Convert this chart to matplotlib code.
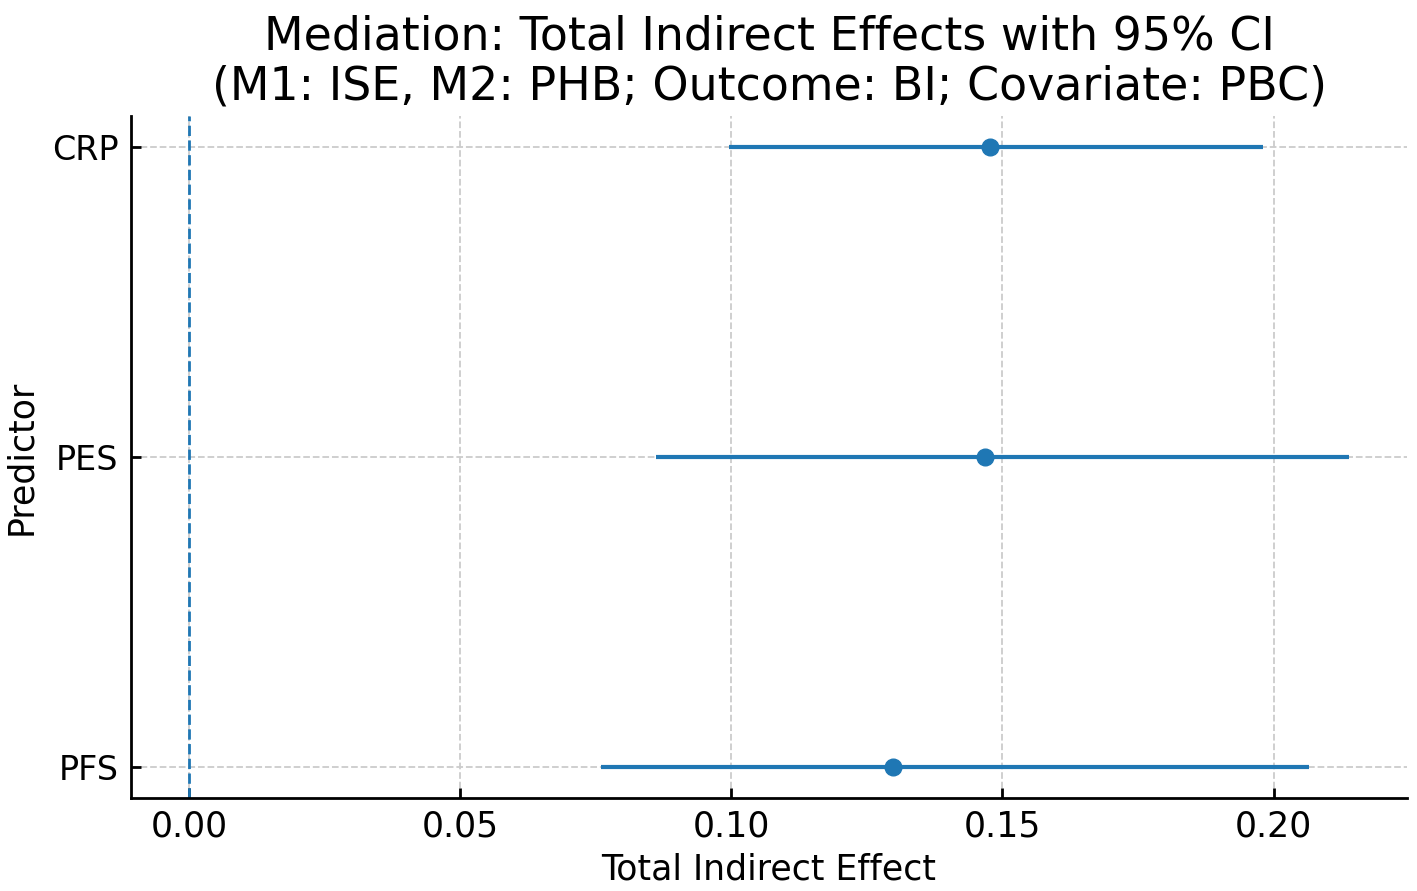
import matplotlib
matplotlib.use("Agg")
import matplotlib.pyplot as plt

predictors = ["CRP", "PES", "PFS"]
effect = [0.1477, 0.1468, 0.1298]
ci_low = [0.0996, 0.0861, 0.0760]
ci_high = [0.1980, 0.2139, 0.2065]

blue = "#1f77b4"

fig = plt.figure(figsize=(14.17, 8.91), dpi=100)
ax = fig.add_axes([0.0924, 0.1044, 0.9006, 0.7654])

ypos = [2, 1, 0]
xerr = [[e - lo for e, lo in zip(effect, ci_low)],
        [hi - e for e, hi in zip(effect, ci_high)]]
ax.errorbar(effect, ypos, xerr=xerr, fmt="o", color=blue, ecolor=blue,
            elinewidth=3, markersize=12, capsize=0, zorder=3)
ax.axvline(0, color=blue, linestyle="--", linewidth=2, zorder=2)

ax.set_yticks(ypos)
ax.set_yticklabels(predictors)
ax.set_xticks([0.0, 0.05, 0.10, 0.15, 0.20])
ax.set_xticklabels(["0.00", "0.05", "0.10", "0.15", "0.20"])
ax.set_xlim(-0.0107, 0.2246)
ax.set_ylim(-0.1, 2.1)

ax.grid(True, linestyle="--", color="#cccccc", linewidth=1.3)
ax.set_axisbelow(True)
for s in ["top", "right"]:
    ax.spines[s].set_visible(False)
for s in ["left", "bottom"]:
    ax.spines[s].set_linewidth(2)
ax.tick_params(axis="both", direction="in", labelsize=25, width=2, length=7)
ax.tick_params(axis="x", pad=8)
ax.tick_params(axis="y", labelsize=24, pad=9)

ax.set_xlabel("Total Indirect Effect", fontsize=25, labelpad=7)
ax.set_ylabel("Predictor", fontsize=25, labelpad=10)
ax.set_title("Mediation: Total Indirect Effects with 95% CI\n"
             "(M1: ISE, M2: PHB; Outcome: BI; Covariate: PBC)",
             fontsize=33, pad=12, linespacing=1.15)

fig.savefig("out.png", dpi=100)
